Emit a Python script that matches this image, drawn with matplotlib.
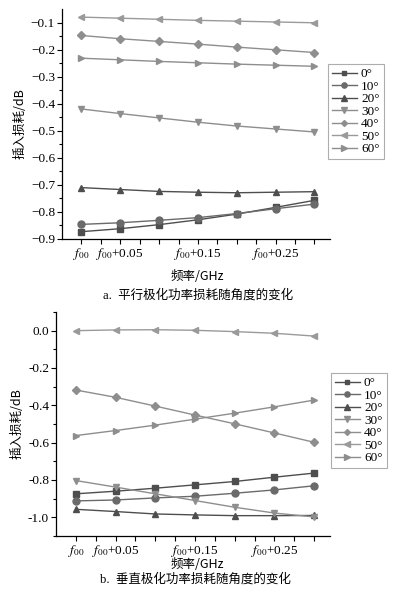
import numpy as np
import matplotlib
matplotlib.use("Agg")
import matplotlib.pyplot as plt

plt.rcParams['font.family'] = ['Liberation Serif', 'Noto Sans CJK SC']
plt.rcParams['mathtext.fontset'] = 'stix'

# frequency offsets from f00 (GHz)
freq = [0.0, 0.05, 0.10, 0.15, 0.20, 0.25, 0.30]
angles = ['0°', '10°', '20°', '30°', '40°', '50°', '60°']

# a. parallel polarisation
par_0 = [-0.874, -0.863, -0.848, -0.830, -0.809, -0.784, -0.758]
par_10 = [-0.847, -0.841, -0.832, -0.822, -0.807, -0.789, -0.772]
par_20 = [-0.711, -0.718, -0.725, -0.728, -0.730, -0.728, -0.726]
par_30 = [-0.420, -0.437, -0.453, -0.469, -0.483, -0.494, -0.505]
par_40 = [-0.148, -0.160, -0.170, -0.180, -0.191, -0.201, -0.211]
par_50 = [-0.080, -0.084, -0.088, -0.092, -0.095, -0.098, -0.101]
par_60 = [-0.232, -0.238, -0.244, -0.249, -0.254, -0.258, -0.262]

# b. vertical polarisation
ver_0 = [-0.874, -0.860, -0.844, -0.826, -0.808, -0.785, -0.763]
ver_10 = [-0.912, -0.907, -0.896, -0.887, -0.871, -0.853, -0.831]
ver_20 = [-0.957, -0.969, -0.982, -0.987, -0.991, -0.991, -0.990]
ver_30 = [-0.803, -0.838, -0.874, -0.910, -0.946, -0.977, -0.998]
ver_40 = [-0.318, -0.357, -0.404, -0.452, -0.499, -0.548, -0.598]
ver_50 = [0.000, 0.004, 0.005, 0.002, -0.005, -0.014, -0.029]
ver_60 = [-0.562, -0.535, -0.506, -0.474, -0.442, -0.408, -0.372]

xtick_pos = [0.0, 0.05, 0.10, 0.15, 0.20, 0.25, 0.30]
xtick_lab = [r'$f_{00}$', r'$f_{00}$+0.05', '', r'$f_{00}$+0.15', '', r'$f_{00}$+0.25', '']

markers = ['s', 'o', '^', 'v', 'D', '<', '>']
colors = ['#4e4e4e', '#6a6a6a', '#4e4e4e', '#8e8e8e', '#8e8e8e', '#9a9a9a', '#8e8e8e']
msizes = [4.5, 5, 5, 5, 4, 5, 5]

W, H = 398, 591
fig = plt.figure(figsize=(W / 100, H / 100), dpi=100)
CJK = ['Noto Sans CJK SC', 'Liberation Serif']


def make_axes(x0, x1, ytop, ybot):
    return fig.add_axes([x0 / W, 1 - ybot / H, (x1 - x0) / W, (ybot - ytop) / H])


def style(ax):
    for s in ['top', 'right']:
        ax.spines[s].set_visible(False)
    for s in ['left', 'bottom']:
        ax.spines[s].set_linewidth(0.9)
    ax.set_xlim(-0.025, 0.32)
    ax.set_xticks(xtick_pos)
    ax.set_xticklabels(xtick_lab)
    ax.set_xticks(np.arange(0.025, 0.32, 0.05), minor=True)
    ax.tick_params(which='both', direction='out', labelsize=9.5, width=0.8)
    ax.tick_params(which='major', length=3.5, pad=1.5)
    ax.tick_params(which='minor', length=3.5)
    ax.tick_params(axis='y', which='minor', length=2)


def draw(ax, series, leg_anchor):
    for i, ys in enumerate(series):
        ax.plot(freq, ys, color=colors[i], marker=markers[i], markersize=msizes[i],
                linewidth=1.0, label=angles[i])
    leg = ax.legend(loc='upper left', bbox_to_anchor=leg_anchor, bbox_transform=fig.transFigure,
                    fontsize=9.5, frameon=True, fancybox=False, edgecolor='#999999',
                    handlelength=1.9, labelspacing=0.02, borderpad=0.3, handletextpad=0.3,
                    borderaxespad=0, markerscale=0.75)
    leg.get_frame().set_linewidth(0.8)


# ---- panel a ----
ax1 = make_axes(62, 330, 9, 238.7)
draw(ax1, [par_0, par_10, par_20, par_30, par_40, par_50, par_60], (328 / W, 1 - 64 / H))
style(ax1)
ax1.set_ylim(-0.9, -0.05)
yt = [-0.1, -0.2, -0.3, -0.4, -0.5, -0.6, -0.7, -0.8, -0.9]
ax1.set_yticks(yt)
ax1.set_yticklabels(['\u2212%.1f' % abs(v) for v in yt])
ax1.set_yticks(np.arange(-0.85, -0.05, 0.1), minor=True)
ax1.set_ylabel('插入损耗/dB', fontsize=9, labelpad=3, family=CJK)

fig.text(197 / W, 1 - 277 / H, '频率/GHz', fontsize=9, ha='center', va='center', family=CJK)
fig.text(198 / W, 1 - 295 / H, 'a.  平行极化功率损耗随角度的变化', fontsize=9, ha='center',
         va='center', family=['Liberation Serif', 'Noto Sans CJK SC'])

# ---- panel b ----
ax2 = make_axes(56, 330, 312, 536)
draw(ax2, [ver_0, ver_10, ver_20, ver_30, ver_40, ver_50, ver_60], (331 / W, 1 - 373 / H))
style(ax2)
ax2.set_ylim(-1.1, 0.1)
yt2 = [0.0, -0.2, -0.4, -0.6, -0.8, -1.0]
ax2.set_yticks(yt2)
ax2.set_yticklabels(['%.1f' % v if v == 0 else '-%.1f' % abs(v) for v in yt2])
ax2.set_yticks([0.1, -0.1, -0.3, -0.5, -0.7, -0.9, -1.1], minor=True)
ax2.set_ylabel('插入损耗/dB', fontsize=9, labelpad=3, family=CJK)

fig.text(197 / W, 1 - 564 / H, '频率/GHz', fontsize=9, ha='center', va='center', family=CJK)
fig.text(195 / W, 1 - 579 / H, 'b.  垂直极化功率损耗随角度的变化', fontsize=9, ha='center',
         va='center', family=['Liberation Serif', 'Noto Sans CJK SC'])

fig.savefig('out.png', dpi=100)
